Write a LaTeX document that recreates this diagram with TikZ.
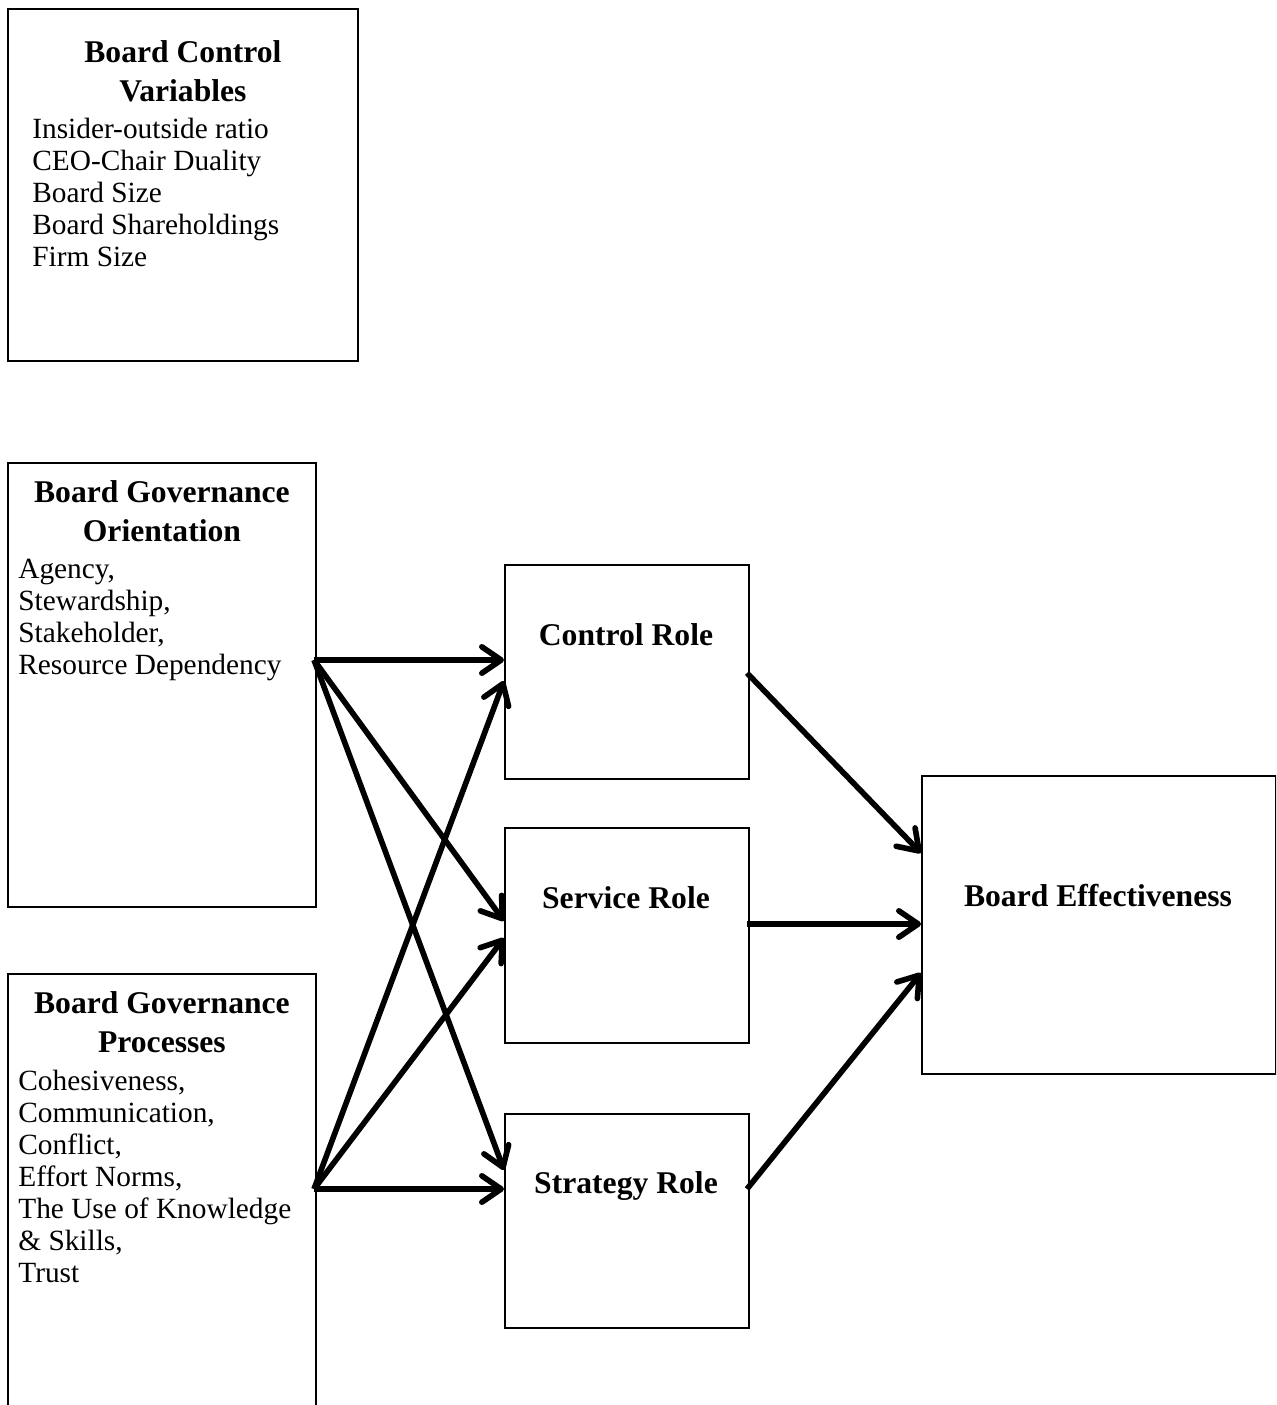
\documentclass[tikz,border=0pt]{standalone}
\usepackage{fontspec}
\setmainfont{Liberation Serif}
\usetikzlibrary{arrows.meta,positioning}

\tikzset{
  box/.style={draw, line width=1.1pt, anchor=north west, inner sep=0pt},
  heading/.style={font=\fontsize{18}{22}\selectfont\bfseries, align=center, inner sep=0pt},
  items/.style={font=\fontsize{16.7}{18.2}\selectfont, align=left, inner sep=0pt},
  link/.style={line width=3.2pt, -{Straight Barb[length=11pt,width=15pt,round]}},
}

\begin{document}
\begin{tikzpicture}[x=0.02cm, y=-0.02cm]
  \path[use as bounding box, clip] (0,0) rectangle (1276,1405);

  % left column
  \node[box, minimum width=7cm, minimum height=7.04cm] (ctrlvars) at (7,8) {};
  \node[heading, below=0.65cm of ctrlvars.north] (ctrlvarshead) {Board Control\\Variables};
  \node[items, below right=2.2cm and 0.5cm of ctrlvars.north west] (ctrlvarslist)
    {Insider-outside ratio\\CEO-Chair Duality\\Board Size\\Board Shareholdings\\Firm Size};

  \node[box, minimum width=6.16cm, minimum height=8.88cm] (orient) at (7,462) {};
  \node[heading, below=0.37cm of orient.north] (orienthead) {Board Governance\\Orientation};
  \node[items, below right=1.94cm and 0.22cm of orient.north west] (orientlist)
    {Agency,\\Stewardship,\\Stakeholder,\\Resource Dependency};

  \node[box, minimum width=6.16cm, minimum height=9cm] (proc) at (7,973) {};
  \node[heading, below=0.37cm of proc.north] (prochead) {Board Governance\\Processes};
  \node[items, below right=1.94cm and 0.22cm of proc.north west] (proclist)
    {Cohesiveness,\\Communication,\\Conflict,\\Effort Norms,\\The Use of Knowledge\\\& Skills,\\Trust};

  % roles
  \node[box, minimum width=4.88cm, minimum height=4.28cm] (ctrlrole) at (504,564) {};
  \node[heading, anchor=base] (ctrlrolename) at (626,645) {Control Role};
  \node[box, minimum width=4.88cm, minimum height=4.3cm] (servrole) at (504,827) {};
  \node[heading, anchor=base] (servrolename) at (626,908) {Service Role};
  \node[box, minimum width=4.88cm, minimum height=4.28cm] (stratrole) at (504,1113) {};
  \node[heading, anchor=base] (stratrolename) at (626,1193) {Strategy Role};

  \node[box, minimum width=7.08cm, minimum height=5.96cm] (effect) at (921,775) {};
  \node[heading, anchor=base] (effectname) at (1098,906) {Board Effectiveness};

  % connector ends
  \coordinate (orientout) at (314,660);
  \coordinate (procout) at (314,1189);
  \coordinate (ctrlin1) at (504,660);
  \coordinate (ctrlin2) at (504,681);
  \coordinate (servin1) at (504,921);
  \coordinate (servin2) at (504,938);
  \coordinate (stratin1) at (504,1170);
  \coordinate (stratin2) at (504,1189);
  \coordinate (ctrlout) at (747,673);
  \coordinate (servout) at (747,924);
  \coordinate (stratout) at (747,1189);
  \coordinate (effectin1) at (921,853);
  \coordinate (effectin2) at (921,924);
  \coordinate (effectin3) at (921,973);

  \draw[link] (orientout) -- (ctrlin1);
  \draw[link] (orientout) -- (servin1);
  \draw[link] (orientout) -- (stratin1);
  \draw[link] (procout) -- (ctrlin2);
  \draw[link] (procout) -- (servin2);
  \draw[link] (procout) -- (stratin2);
  \draw[link] (ctrlout) -- (effectin1);
  \draw[link] (servout) -- (effectin2);
  \draw[link] (stratout) -- (effectin3);
\end{tikzpicture}
\end{document}
